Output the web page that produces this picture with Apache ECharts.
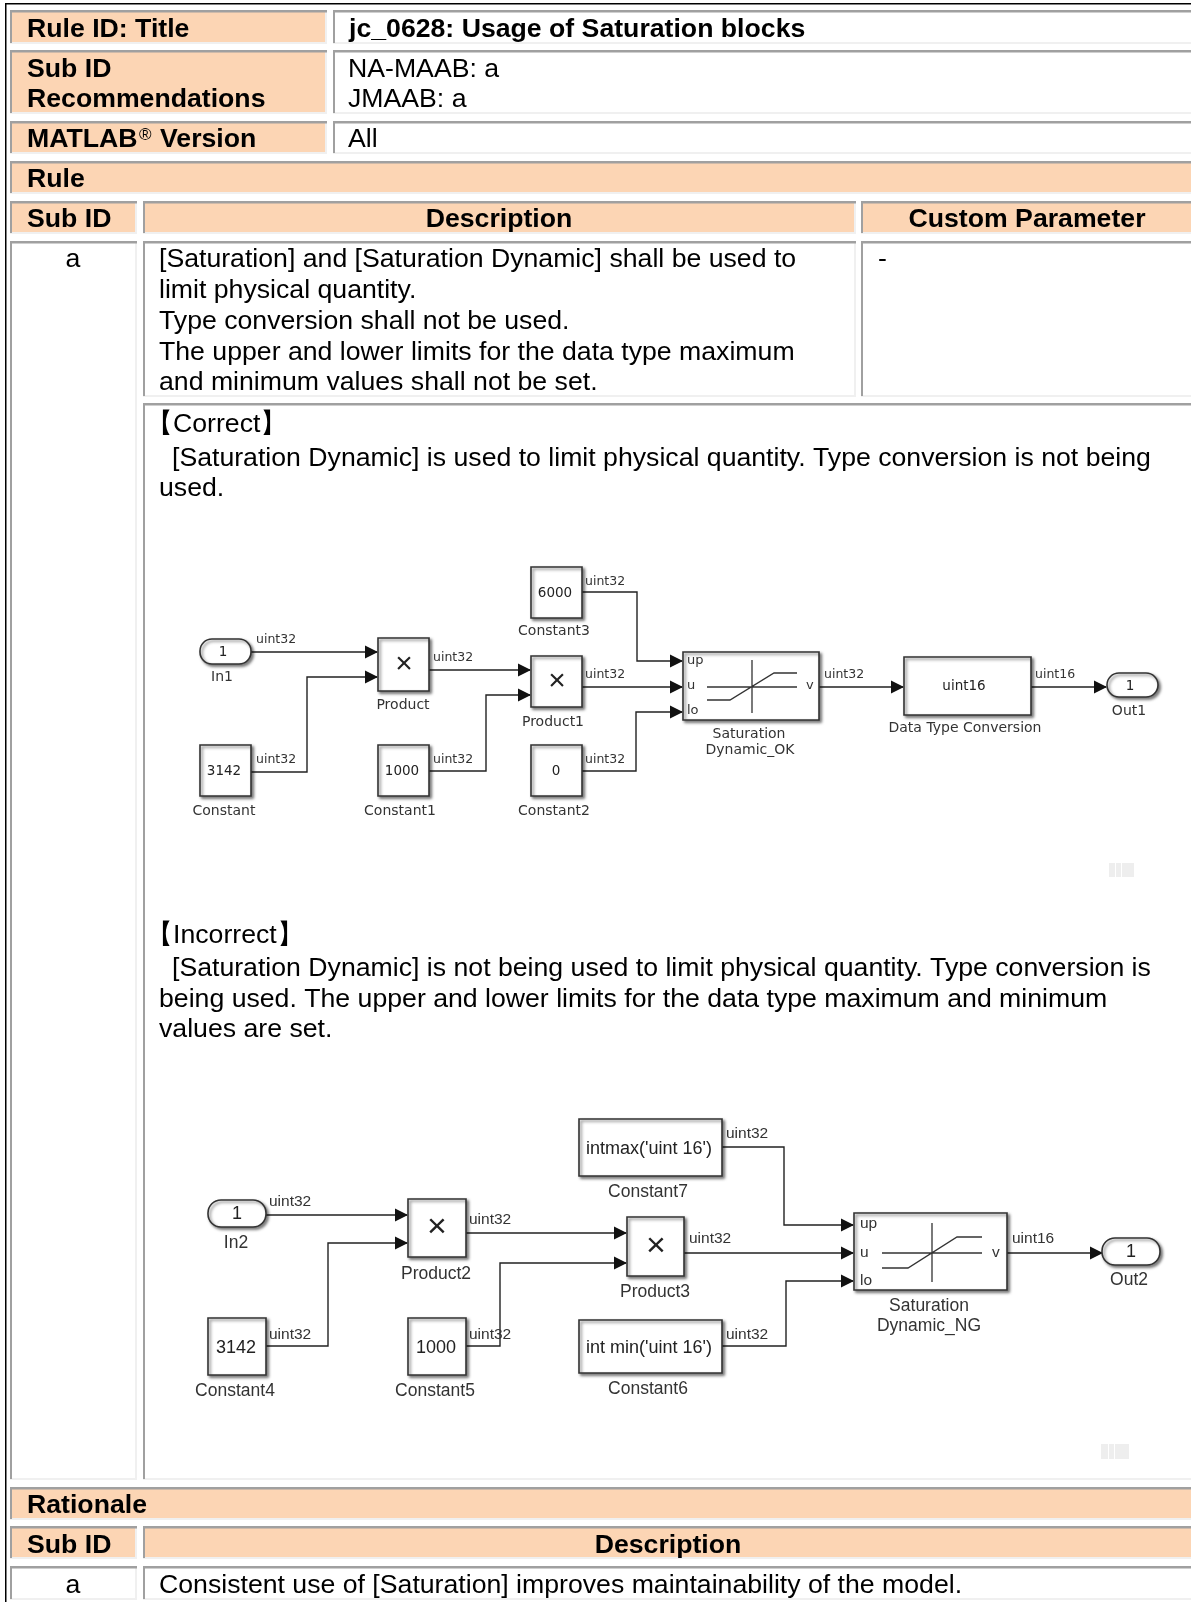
<!DOCTYPE html>
<html><head><meta charset="utf-8">
<style>html,body{margin:0;padding:0;background:#fff}#c{width:1191px;height:1602px}</style>
<script src="https://cdn.jsdelivr.net/npm/echarts@6/dist/echarts.min.js"></script>
</head><body><div id="c"></div>
<script>
// ---------- content ----------
const tableLines = [
 'Rule ID: Title','jc_0628: Usage of Saturation blocks','Sub ID','Recommendations','NA-MAAB: a','JMAAB: a',
 'MATLAB','®','Version','All','Rule','Sub ID','Description','Custom Parameter','a',
 '[Saturation] and [Saturation Dynamic] shall be used to','limit physical quantity.','Type conversion shall not be used.',
 'The upper and lower limits for the data type maximum','and minimum values shall not be set.','-',
 '【Correct】','[Saturation Dynamic] is used to limit physical quantity. Type conversion is not being','used.',
 '【Incorrect】','[Saturation Dynamic] is not being used to limit physical quantity. Type conversion is',
 'being used. The upper and lower limits for the data type maximum and minimum','values are set.',
 'Rationale','Sub ID','Description','a','Consistent use of [Saturation] improves maintainability of the model.'
];
const blockValues = ['1','×','3142','1000','6000','×','0','uint16','1','1','×','3142','1000',"intmax('uint 16')",'×',"int min('uint 16')",'1'];
const blockNames = ['In1','Product','Constant','Constant1','Constant3','Product1','Constant2','Data Type Conversion','Out1',
 'In2','Product2','Constant4','Constant5','Constant7','Product3','Constant6','Out2','Saturation','Dynamic_OK','Saturation','Dynamic_NG'];
const signalTypes = ['uint32','uint32','uint32','uint32','uint32','uint32','uint32','uint32','uint16',
 'uint32','uint32','uint32','uint32','uint32','uint32','uint32','uint16'];
const portNames = ['up','u','lo','v','up','u','lo','v'];

// ---------- layout (page pixels, mapped through hidden axes) ----------
const F='#FCD5B4';
const cellBoxes=[[10,10,327,44,F],[333,10,1200,44],[10,50,327,114,F],[333,50,1200,114],[10,121,327,154,F],[333,121,1200,154],
 [10,161,1200,194,F],[10,201,137,234,F],[143,201,856,234,F],[861,201,1200,234,F],
 [10,241,137,1480],[143,241,856,397],[861,241,1200,397],[143,403,1200,1480],
 [10,1487,1200,1520,F],[10,1526,137,1559,F],[143,1526,1200,1559,F],[10,1566,137,1600],[143,1566,1200,1600]];
// x,y,bold,align,size
const linePos=[[27,30,1],[349,30,1],[27,70,1],[27,100,1],[348,70],[348,100],[27,140,1],[139,135,0,'left',17],[160,140,1],[348,140],
 [27,180,1],[27,220,1],[499,220,1,'center'],[1027,220,1,'center'],[73,260,0,'center'],
 [159,260],[159,291],[159,322],[159,353],[159,383],[878,260],
 [146,425],[172,459],[159,489],[146,936],[172,969],[159,1000],[159,1030],
 [27,1506,1],[27,1546,1],[668,1546,1,'center'],[73,1586,0,'center'],[159,1586]];
// x0,y0,x1,y1,radius, value x,y, big?
const blockBoxes=[[200,639,251,664,12,223,652],[378,638,429,691,0,404,665],[200,745,251,796,0,224,771],[378,745,429,796,0,402,771],
 [531,567,582,618,0,555,593],[531,656,582,707,0,557,682],[531,745,582,796,0,556,771],[904,657,1031,715,0,964,686],[1107,673,1158,697,12,1130,686],
 [208,1200,266,1227,13,237,1214,1],[408,1199,466,1257,0,437,1228,1],[208,1318,266,1375,0,236,1348,1],[408,1318,466,1375,0,436,1348,1],
 [579,1119,722,1176,0,649,1149,1],[627,1217,684,1276,0,656,1247,1],[579,1320,722,1373,0,649,1348,1],[1102,1238,1160,1265,13,1131,1252,1]];
const nameCenters=[[222,677],[403,705],[224,811],[400,811],[554,631],[553,722],[554,811],[965,728],[1129,711],
 [236,1243,1],[436,1274,1],[235,1391,1],[435,1391,1],[648,1192,1],[655,1292,1],[648,1389,1],[1129,1280,1],
 [749,734],[750,750],[929,1306,1],[929,1326,1]];
const signalPos=[[256,640],[433,658],[256,760],[433,760],[585,582],[585,675],[585,760],[824,675],[1035,675],
 [269,1202,1],[469,1220,1],[269,1335,1],[469,1335,1],[726,1134,1],[689,1239,1],[726,1335,1],[1012,1239,1]];
const satBoxes=[[683,652,819,720],[854,1213,1007,1290]];
const portPos=[[687,661],[687,686],[687,711],[806,686],[860,1224,1],[860,1253,1],[860,1281,1],[992,1253,1]];
const wires=[
 [[251,652],[377,652]],[[251,772],[307,772],[307,677],[377,677]],[[429,670],[530,670]],[[429,771],[486,771],[486,695],[530,695]],
 [[582,592],[637,592],[637,661],[682,661]],[[582,687],[682,687]],[[582,771],[636,771],[636,712],[682,712]],
 [[819,687],[903,687]],[[1031,687],[1106,687]],
 [[266,1215],[407,1215]],[[266,1346],[328,1346],[328,1243],[407,1243]],[[466,1233],[626,1233]],[[466,1346],[500,1346],[500,1263],[626,1263]],
 [[722,1147],[784,1147],[784,1225],[853,1225]],[[684,1253],[853,1253]],[[722,1346],[786,1346],[786,1281],[853,1281]],[[1007,1253],[1102,1253]]
];
const glyphLines=[
 [[707,687],[797,687]],[[752,660],[752,713]],[[707,700],[730,700],[774,673],[797,673]],
 [[882,1253],[982,1253]],[[932,1223],[932,1282]],[[882,1268],[908,1268],[957,1237],[982,1237]]
];
const ghostBoxes=[[1109,863,1115,877],[1116,863,1121,877],[1122,863,1134,877],[1101,1444,1108,1459],[1109,1444,1114,1459],[1115,1444,1129,1459]];

// ---------- helpers ----------
const join=a=>{const o=[];a.forEach((w,i)=>{if(i)o.push(null);w.forEach(p=>o.push(p));});return o;};
const sans='"Liberation Sans"',dejavu='"DejaVu Sans"';
const rectSeries=(boxes,draw,z)=>({type:'custom',coordinateSystem:'cartesian2d',clip:false,z,silent:true,
 encode:{x:[0,2],y:[1,3]},data:boxes.map(b=>b.slice(0,4)),
 renderItem:(p,api)=>{const i=p.dataIndex,a=api.coord([api.value(0),api.value(1)]),b=api.coord([api.value(2),api.value(3)]);
  return draw(i,a[0],a[1],b[0]-a[0],b[1]-a[1],boxes[i]);}});
const textSeries=(pos,strings,font,z)=>({type:'custom',coordinateSystem:'cartesian2d',clip:false,z,silent:true,
 encode:{x:0,y:1},data:pos.map(q=>[q[0],q[1]]),
 renderItem:(p,api)=>{const i=p.dataIndex,c=api.coord([api.value(0),api.value(1)]),f=font(i,pos[i]);
  return {type:'text',style:{x:c[0],y:c[1],text:strings[i],font:f.font,fill:f.fill,textAlign:f.align||'left',textVerticalAlign:'middle'}};}});
const lineSeries=(pts,w,col,z)=>({type:'line',data:pts,showSymbol:false,connectNulls:false,silent:true,z,clip:false,
 lineStyle:{width:w,color:col,cap:'butt',join:'miter'}});

const series=[];
// table cells
series.push(rectSeries(cellBoxes,(i,x,y,w,h,b)=>({type:'group',children:[
 {type:'rect',shape:{x,y,width:w,height:h},style:{fill:b[4]||'#fff'}},
 {type:'rect',shape:{x:x+w-2,y,width:2,height:h},style:{fill:'#f0f0f0'}},
 {type:'rect',shape:{x,y:y+h-2,width:w,height:2},style:{fill:'#f0f0f0'}},
 {type:'rect',shape:{x,y,width:w,height:2.4},style:{fill:'#a0a0a0'}},
 {type:'rect',shape:{x,y,width:2,height:h-1},style:{fill:'#a0a0a0'}}
]}),1));
// outer frame
series.push(rectSeries([[5,3,6.5,1602],[5,3,1200,4.4]],(i,x,y,w,h)=>({type:'rect',shape:{x,y,width:w,height:h},style:{fill:'#000'}}),2));
series.push(rectSeries(ghostBoxes,(i,x,y,w,h)=>({type:'rect',shape:{x,y,width:w,height:h},style:{fill:'#eeeeee'}}),2));
// wires
series.push(lineSeries(join(wires),1.4,'#222',5));
series.push(lineSeries(join(glyphLines),1.3,'#333',8));
// arrowheads derived from each wire's end
const ends=wires.map(w=>w[w.length-1]);
series.push({type:'custom',coordinateSystem:'cartesian2d',clip:false,z:6,silent:true,encode:{x:0,y:1},data:ends,
 renderItem:(p,api)=>{const c=api.coord([api.value(0),api.value(1)]);
  return {type:'polygon',shape:{points:[[c[0]+1,c[1]],[c[0]-12,c[1]-6.5],[c[0]-12,c[1]+6.5]]},style:{fill:'#111'}};}});
// blocks
const shadow={shadowBlur:3,shadowOffsetX:2,shadowOffsetY:2,shadowColor:'rgba(0,0,0,.5)'};
const blockDraw=(i,x,y,w,h,b)=>({type:'rect',shape:{x,y,width:w,height:h,r:b[4]||0},style:Object.assign({fill:'#fff',stroke:'#333',lineWidth:1.6},shadow)});
series.push(rectSeries(blockBoxes,blockDraw,7));
series.push(rectSeries(satBoxes,blockDraw,7));
// texts
series.push(textSeries(linePos,tableLines,(i,q)=>({font:(q[2]?'bold ':'')+(q[4]||26.67)+'px '+sans,fill:'#000',align:q[3]}),10));
series.push(textSeries(blockBoxes.map(b=>[b[5],b[6],b[7]]),blockValues,(i,q)=>{
 const big=q[2],cross=blockValues[i]==='×';
 return {font:cross?((big?34:30)+'px '+sans):(big?'18px '+sans:'13.5px '+dejavu),fill:'#222',align:'center'};},10));
series.push(textSeries(nameCenters,blockNames,(i,q)=>({font:q[2]?'17.5px '+sans:'14px '+dejavu,fill:'#333',align:'center'}),10));
series.push(textSeries(signalPos,signalTypes,(i,q)=>({font:q[2]?'15.5px '+sans:'12.5px '+dejavu,fill:'#333'}),10));
series.push(textSeries(portPos,portNames,(i,q)=>({font:q[2]?'15.5px '+sans:'13px '+dejavu,fill:'#333'}),10));

const chart=echarts.init(document.getElementById('c'),null,{renderer:'canvas'});
chart.setOption({animation:false,backgroundColor:'#fff',
 grid:{left:0,right:0,top:0,bottom:0,containLabel:false},
 xAxis:{type:'value',min:0,max:1191,show:false},
 yAxis:{type:'value',min:0,max:1602,inverse:true,show:false},
 tooltip:{show:false},series});
</script></body></html>
